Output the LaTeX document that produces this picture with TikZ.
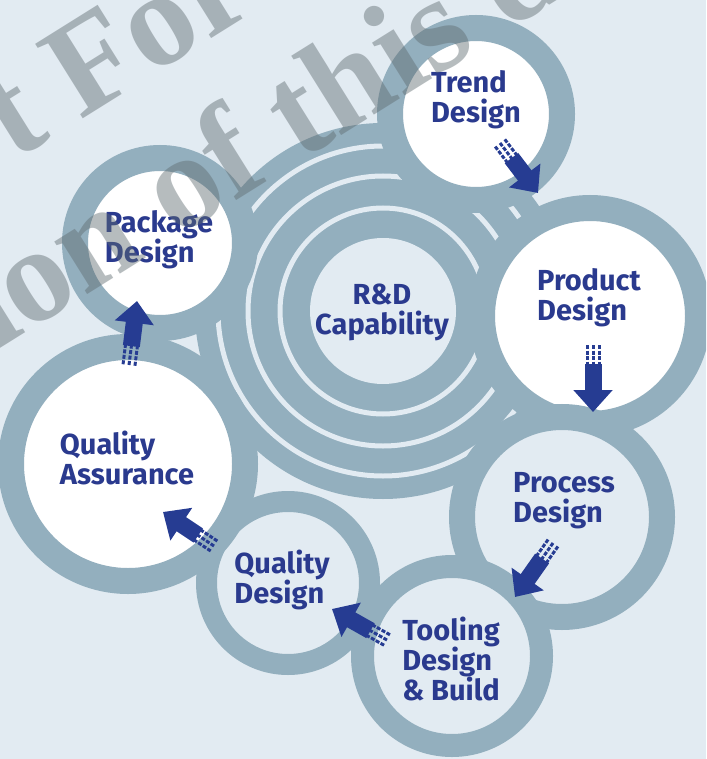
\documentclass[tikz,border=0pt]{standalone}
\usepackage{fontspec}
\setmainfont{Fira Sans}
\newfontfamily\wmfont{Liberation Serif}
\usepackage{tikz}
\usetikzlibrary{calc}
\usetikzlibrary{arrows.meta}

\definecolor{bgblue}{HTML}{E2EBF2}
\definecolor{ringblue}{HTML}{93AFBE}
\definecolor{inkblue}{HTML}{2A3A8E}
\definecolor{arrowblue}{HTML}{263C92}
\definecolor{wmgray}{HTML}{5F6B70}

\tikzset{
  ring/.style={circle, draw=ringblue, inner sep=0pt, outer sep=0pt},
  whitering/.style={ring, fill=white},
  palering/.style={ring, fill=bgblue},
  lbl/.style={text=inkblue, font=\fontsize{29}{30}\selectfont\bfseries, align=left, inner sep=0pt},
  arcline/.style={draw=bgblue, line width=5pt},
  shaft/.style={draw=arrowblue, line width=17pt, -{Triangle[width=38pt,length=22pt]}},
  stripe/.style={draw=arrowblue, line width=3pt, dash pattern=on 4pt off 1.5pt},
  wm/.style={text=wmgray, text opacity=0.45, font=\wmfont\bfseries\fontsize{135}{135}\selectfont, inner sep=0pt, rotate=32, anchor=base west}
}

% block arrow with a striped tail, from tail #1 to tip #2
\newcommand{\flowarrow}[2]{%
  \draw[shaft] ($(#1)!19pt!(#2)$) -- (#2);
  \coordinate (famid) at ($(#1)!21pt!(#2)$);
  \foreach \o in {-6pt,0pt,6pt}
    \draw[stripe] ($(#1)!\o!90:(#2)$) -- ($(famid)!\o!-90:(#1)$);
}

\begin{document}
\begin{tikzpicture}[x=1pt,y=1pt]
                        % frame and background
                        \useasboundingbox (0,0) rectangle (706,-759);
                        \fill[bgblue] (0,0) rectangle (706,-759);
                        \clip (0,0) rectangle (706,-759);

                        % Drawing hub R&D
                        \coordinate (rdc) at (383,-311);
                        \fill[ringblue] (rdc) circle[radius=188];
                        \foreach \r in {103,135,165}
                          \draw[arcline] (rdc) circle[radius=\r];%
                        \node[circle, fill=bgblue, inner sep=0pt, minimum size=146pt] (rd) at (rdc) {};%

                        % Drawing circles of the cycle
                        \node[whitering, line width=26pt, minimum size=172pt] (trend) at (476,-114) {};%
                        \node[whitering, line width=26pt, minimum size=216pt] (product) at (590,-316) {};%
                        \node[palering, line width=26pt, minimum size=200pt] (process) at (562,-517) {};%
                        \node[palering, line width=23pt, minimum size=179pt] (tooling) at (452,-656) {};%
                        \node[palering, line width=21pt, minimum size=163pt] (qdesign) at (288,-583) {};%
                        \node[whitering, line width=26pt, minimum size=234pt] (qassure) at (128,-464) {};%
                        \node[whitering, line width=26pt, minimum size=170pt] (package) at (160,-243) {};%

                        % Marking labels
                        \node[lbl, align=center] (rdtxt) at (382,-312) {R\&D\\Capability};%
                        \node[lbl] (trendtxt) at (476,-100) {Trend\\Design};%
                        \node[lbl] (producttxt) at (589,-298) {Product\\Design};%
                        \node[lbl] (processtxt) at (564,-501) {Process\\Design};%
                        \node[lbl] (toolingtxt) at (451,-659) {Tooling\\Design\\\&~Build};%
                        \node[lbl] (qdesigntxt) at (282,-580) {Quality\\Design};%
                        \node[lbl] (qassuretxt) at (127,-458) {Quality\\Assurance};%
                        \node[lbl] (packagetxt) at (159,-240) {Package\\Design};%

                        % Drawing arrows between the circles
                        \coordinate (trendout) at (500,-143);
                        \coordinate (productin) at (538,-193);
                        \coordinate (productout) at (593,-345);
                        \coordinate (processin) at (593,-412);
                        \coordinate (processout) at (553,-543);
                        \coordinate (toolingin) at (515,-597);
                        \coordinate (toolingout) at (387,-640);
                        \coordinate (qdesignin) at (332,-609);
                        \coordinate (qdesignout) at (214,-546);
                        \coordinate (qassurein) at (163,-512);
                        \coordinate (qassureout) at (129,-365);
                        \coordinate (packagein) at (137,-301);
                        \flowarrow{trendout}{productin}
                        \flowarrow{productout}{processin}
                        \flowarrow{processout}{toolingin}
                        \flowarrow{toolingout}{qdesignin}
                        \flowarrow{qdesignout}{qassurein}
                        \flowarrow{qassureout}{packagein}

                        % Marking watermark
                        \node[wm] (wmone) at (14,-162) {t For};%
                        \node[wm] (wmtwo) at (-5,-352) {ion of this d};%
\end{tikzpicture}
\end{document}
